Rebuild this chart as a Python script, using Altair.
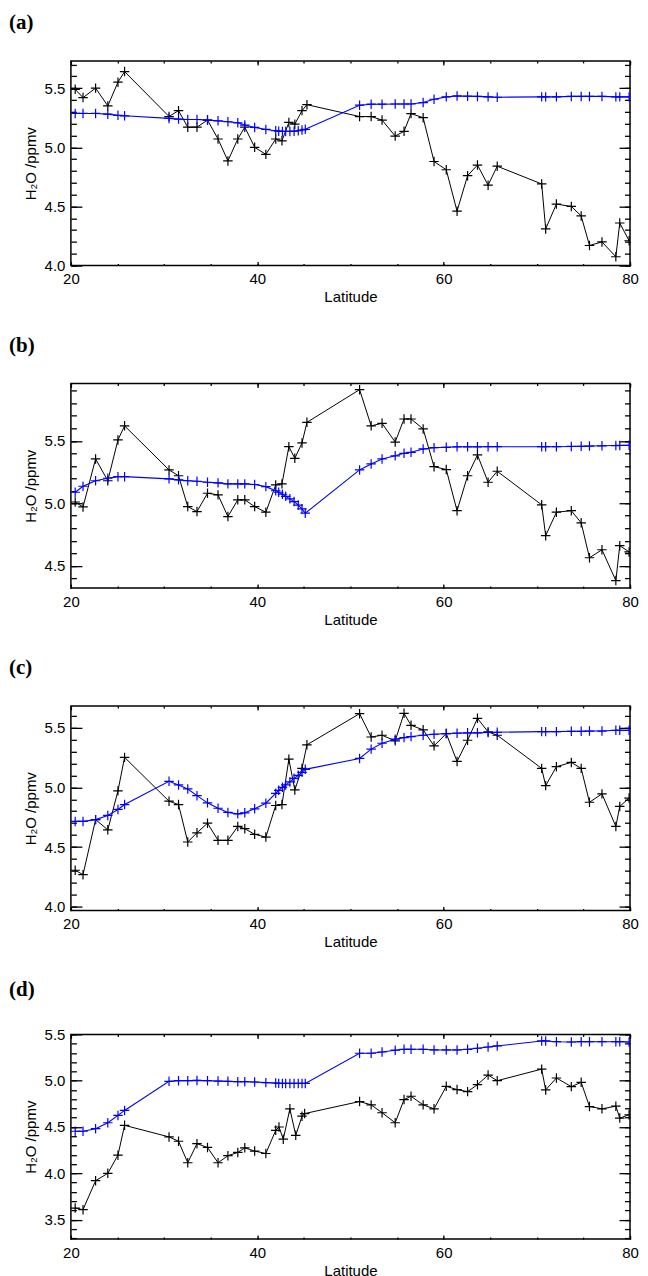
import altair as alt
import pandas as pd
import numpy as np

# Latitudes of the measurements (panels a-c) and panel d
LAT_OBS = [20.46, 21.3, 22.65, 23.96, 25.05, 25.76, 30.53, 31.55, 32.54, 33.53, 34.66,
           35.79, 36.85, 37.91, 38.66, 39.72, 40.92, 41.98, 42.65, 43.39, 44.03, 44.8,
           45.33, 50.98, 52.22, 53.39, 54.8, 55.75, 56.5, 57.8, 58.97, 60.28, 61.44,
           62.57, 63.63, 64.77, 65.75, 70.52, 70.95, 72.1, 73.7, 74.76, 75.65, 76.99,
           78.48, 78.9, 79.9]
LAT_OBS_D = [20.46, 21.3, 22.65, 23.96, 25.05, 25.76, 30.53, 31.55, 32.54, 33.53, 34.66,
             35.79, 36.85, 37.91, 38.66, 39.72, 40.92, 41.98, 42.33, 42.79, 43.5, 44.13,
             44.8, 45.08, 50.98, 52.22, 53.39, 54.8, 55.75, 56.5, 57.8, 58.97, 60.28,
             61.44, 62.57, 63.63, 64.77, 65.75, 70.52, 70.95, 72.1, 73.7, 74.76, 75.65,
             76.99, 78.48, 78.9, 79.9]
# Latitudes of the model (blue) curve
LAT_MOD = [20.46, 21.3, 22.65, 23.96, 25.05, 25.76, 30.53, 31.55, 32.54, 33.53, 34.66,
           35.79, 36.85, 37.91, 38.66, 39.72, 40.92, 41.98, 42.3, 42.7, 43.05, 43.5,
           43.95, 44.4, 44.8, 45.15, 50.98, 52.22, 53.39, 54.8, 55.75, 56.5, 57.8,
           58.97, 60.28, 61.44, 62.57, 63.63, 64.77, 65.75, 70.52, 70.95, 72.1, 73.7,
           74.76, 75.65, 76.99, 78.48, 78.9, 79.9]

A_OBS = [5.49, 5.42, 5.50, 5.35, 5.55, 5.64, 5.26, 5.31, 5.17, 5.17, 5.23, 5.07, 4.885,
         5.07, 5.17, 5.0, 4.94, 5.07, 5.055, 5.21, 5.195, 5.31, 5.36, 5.26, 5.26, 5.23,
         5.095, 5.135, 5.285, 5.25, 4.88, 4.81, 4.46, 4.76, 4.85, 4.68, 4.84, 4.69, 4.31,
         4.52, 4.50, 4.42, 4.17, 4.20, 4.075, 4.36, 4.21]
A_MOD = [5.286, 5.286, 5.286, 5.28, 5.27, 5.266, 5.244, 5.238, 5.235, 5.235, 5.23, 5.224,
         5.216, 5.207, 5.188, 5.168, 5.151, 5.14, 5.136, 5.134, 5.134, 5.134, 5.136, 5.14,
         5.146, 5.152, 5.356, 5.364, 5.364, 5.366, 5.366, 5.366, 5.378, 5.406, 5.426,
         5.434, 5.432, 5.43, 5.426, 5.423, 5.426, 5.426, 5.426, 5.43, 5.43, 5.43, 5.43,
         5.426, 5.426, 5.426]

B_OBS = [5.01, 4.97, 5.355, 5.18, 5.507, 5.62, 5.267, 5.22, 4.973, 4.933, 5.08, 5.067,
         4.893, 5.027, 5.027, 4.973, 4.928, 5.147, 5.155, 5.453, 5.36, 5.483, 5.648, 5.91,
         5.62, 5.64, 5.49, 5.675, 5.675, 5.595, 5.293, 5.27, 4.94, 5.22, 5.387, 5.168,
         5.256, 4.987, 4.74, 4.928, 4.94, 4.843, 4.563, 4.627, 4.38, 4.66, 4.61]
B_MOD = [5.088, 5.136, 5.18, 5.2, 5.213, 5.213, 5.195, 5.187, 5.18, 5.176, 5.168, 5.163,
         5.155, 5.155, 5.155, 5.15, 5.133, 5.10, 5.088, 5.072, 5.055, 5.035, 5.013, 4.985,
         4.955, 4.92, 5.267, 5.315, 5.355, 5.38, 5.40, 5.408, 5.435, 5.445, 5.448, 5.452,
         5.452, 5.452, 5.453, 5.453, 5.453, 5.453, 5.453, 5.455, 5.456, 5.458, 5.46,
         5.462, 5.463, 5.464]

C_OBS = [4.307, 4.27, 4.73, 4.645, 4.97, 5.25, 4.884, 4.856, 4.543, 4.62, 4.70, 4.557,
         4.557, 4.673, 4.654, 4.607, 4.584, 4.848, 4.856, 5.235, 4.978, 5.158, 5.355,
         5.615, 5.42, 5.435, 5.388, 5.618, 5.518, 5.48, 5.346, 5.449, 5.216, 5.393, 5.576,
         5.463, 5.435, 5.158, 5.014, 5.172, 5.208, 5.158, 4.875, 4.945, 4.673, 4.84, 4.91]
C_MOD = [4.715, 4.715, 4.73, 4.765, 4.815, 4.856, 5.05, 5.02, 4.986, 4.93, 4.87, 4.825,
         4.79, 4.778, 4.787, 4.82, 4.867, 4.95, 4.975, 5.0, 5.02, 5.045, 5.075, 5.10,
         5.125, 5.15, 5.241, 5.319, 5.368, 5.402, 5.415, 5.424, 5.435, 5.443, 5.449,
         5.452, 5.455, 5.455, 5.458, 5.46, 5.465, 5.465, 5.465, 5.468, 5.468, 5.47, 5.47,
         5.476, 5.476, 5.476]

D_OBS = [3.625, 3.607, 3.92, 4.0, 4.196, 4.518, 4.393, 4.346, 4.114, 4.32, 4.279, 4.114,
         4.19, 4.225, 4.275, 4.24, 4.214, 4.464, 4.5, 4.368, 4.696, 4.41, 4.617, 4.645,
         4.775, 4.739, 4.654, 4.546, 4.796, 4.832, 4.739, 4.696, 4.939, 4.904, 4.882,
         4.957, 5.061, 5.0, 5.125, 4.9, 5.029, 4.936, 4.982, 4.721, 4.696, 4.725, 4.596,
         4.632]
D_MOD = [4.454, 4.454, 4.482, 4.546, 4.625, 4.679, 4.993, 5.0, 5.0, 5.003, 5.0, 4.996,
         4.993, 4.989, 4.989, 4.986, 4.979, 4.975, 4.971, 4.97, 4.97, 4.97, 4.97, 4.97,
         4.97, 4.97, 5.296, 5.296, 5.31, 5.329, 5.339, 5.339, 5.339, 5.332, 5.332, 5.332,
         5.339, 5.35, 5.364, 5.375, 5.429, 5.429, 5.421, 5.418, 5.421, 5.421, 5.421,
         5.421, 5.421, 5.418]

PANEL_LABELS = ["(a)", "(b)", "(c)", "(d)"]
Y_DOMAINS = [[4.0, 5.73], [4.32, 5.96], [3.97, 5.68], [3.29, 5.5]]
X_DOMAIN = [20, 80]
X_MAJOR = [20, 40, 60, 80]
X_MINOR = [20, 25, 30, 35, 40, 45, 50, 55, 60, 65, 70, 75, 80]

PLOT_W = 560
PLOT_H = 205
PLUS = "M-1,0L1,0M0,-1L0,1"
BLUE = "#0000ff"
FONT = "Liberation Sans"


def tick_axis(orient, values, size, offset):
    # ticks drawn inward: the axis line is moved inside the frame so the
    # outward-pointing ticks end on the frame edge
    return alt.Axis(orient=orient, values=values, tickSize=size, offset=offset,
                    labels=False, domain=False, grid=False, title=None,
                    ticks=True, tickColor="black", tickWidth=1.3)


def panel(label, obs_lat, obs, mod_lat, mod, ydom):
    df_o = pd.DataFrame({"lat": obs_lat, "v": obs})
    df_m = pd.DataFrame({"lat": mod_lat, "v": mod})
    xs = alt.Scale(domain=X_DOMAIN, nice=False, zero=False)
    ys = alt.Scale(domain=ydom, nice=False, zero=False)
    ymaj = [round(float(v), 1) for v in np.arange(0, 10, 0.5) if ydom[0] - 1e-9 <= v <= ydom[1] + 1e-9]
    ymin = [round(float(v), 1) for v in np.arange(0, 10, 0.1) if ydom[0] - 1e-9 <= v <= ydom[1] + 1e-9]

    def enc(ch, xaxis=None, yaxis=None):
        return ch.encode(
            x=alt.X("lat:Q", scale=xs, axis=xaxis),
            y=alt.Y("v:Q", scale=ys, axis=yaxis),
        )

    obs_line = enc(alt.Chart(df_o).mark_line(color="black", strokeWidth=1, clip=True))
    obs_pts = enc(alt.Chart(df_o).mark_point(shape=PLUS, size=90, color="black", strokeWidth=1.2,
                                             filled=False, opacity=1, clip=True))
    mod_line = enc(alt.Chart(df_m).mark_line(color=BLUE, strokeWidth=1.1, clip=True))
    mod_pts = enc(alt.Chart(df_m).mark_point(shape=PLUS, size=90, color=BLUE, strokeWidth=1.2,
                                             filled=False, opacity=1, clip=True))

    ghost = alt.Chart(df_o).mark_line(opacity=0, clip=True)
    lab = enc(ghost,
              alt.Axis(orient="bottom", values=X_MAJOR, format="d", ticks=False, domain=False,
                       grid=False, title="Latitude", labelPadding=6, titlePadding=3,
                       labelFlush=False),
              alt.Axis(orient="left", values=ymaj, format=".1f", ticks=False, domain=False,
                       grid=False, title="H\u2082O /ppmv", labelPadding=6, titlePadding=6,
                       labelFlush=False))
    # bottom / left edge ticks
    t1 = enc(ghost, tick_axis("bottom", X_MAJOR, 4, -4), tick_axis("left", ymaj, 11, -11))
    t2 = enc(ghost, tick_axis("bottom", X_MINOR, 2, -2), tick_axis("left", ymin, 5.5, -5.5))
    # top / right edge ticks (axis line moved onto the opposite edge)
    t3 = enc(ghost, tick_axis("bottom", X_MAJOR, 4, -PLOT_H), tick_axis("left", ymaj, 11, -PLOT_W))
    t4 = enc(ghost, tick_axis("bottom", X_MINOR, 2, -PLOT_H), tick_axis("left", ymin, 5.5, -PLOT_W))

    return (
        alt.layer(obs_line, obs_pts, mod_line, mod_pts, lab, t1, t2, t3, t4)
        .resolve_scale(x="independent", y="independent")
        .resolve_axis(x="independent", y="independent")
        .properties(
            width=PLOT_W, height=PLOT_H,
            title=alt.TitleParams(label, anchor="start", frame="group", font="Liberation Serif",
                                  fontWeight="bold", fontSize=21, dx=-62, offset=27,
                                  color="black"),
        )
    )


panels = [
    panel(PANEL_LABELS[0], LAT_OBS, A_OBS, LAT_MOD, A_MOD, Y_DOMAINS[0]),
    panel(PANEL_LABELS[1], LAT_OBS, B_OBS, LAT_MOD, B_MOD, Y_DOMAINS[1]),
    panel(PANEL_LABELS[2], LAT_OBS, C_OBS, LAT_MOD, C_MOD, Y_DOMAINS[2]),
    panel(PANEL_LABELS[3], LAT_OBS_D, D_OBS, LAT_MOD, D_MOD, Y_DOMAINS[3]),
]

chart = (
    alt.vconcat(*panels, spacing=28)
    .properties(padding={"left": 0, "top": 2, "right": 0, "bottom": 0})
    .configure_view(stroke="black", strokeWidth=1.5)
    .configure_axis(labelFont=FONT, labelFontSize=15, labelColor="black",
                    titleFont=FONT, titleFontSize=15, titleFontWeight="normal",
                    titleColor="black")
)

chart.save("out.html", embed_options={"renderer": "svg", "actions": False})
